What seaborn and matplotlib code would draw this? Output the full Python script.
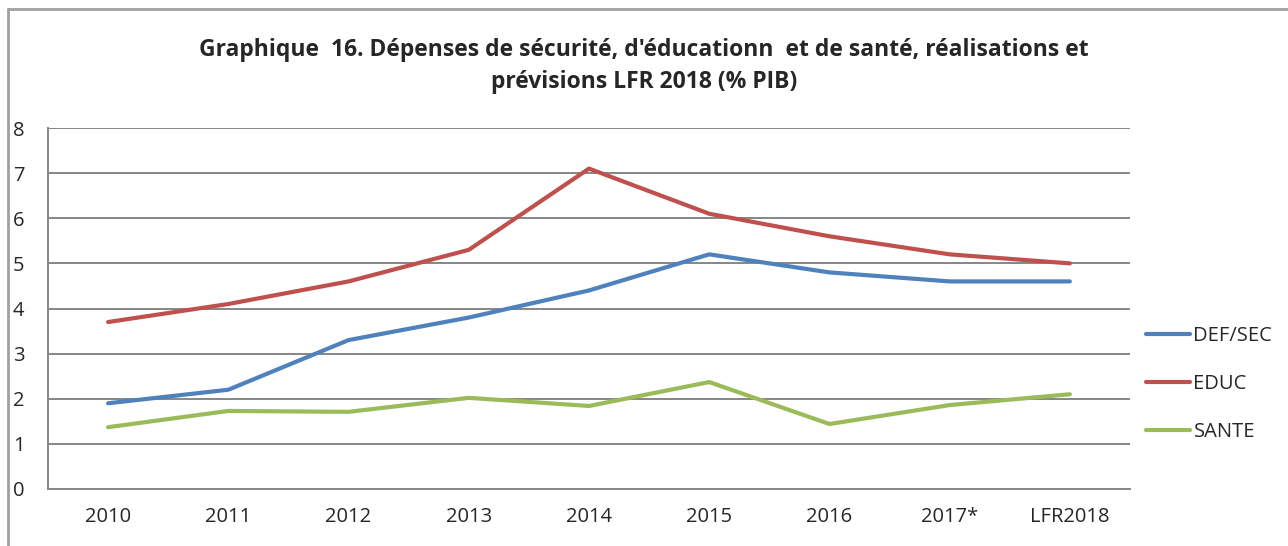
import matplotlib
matplotlib.use("Agg")
import matplotlib.pyplot as plt
from matplotlib.lines import Line2D
import seaborn as sns
import pandas as pd
import numpy as np

categories = ["2010", "2011", "2012", "2013", "2014", "2015", "2016", "2017*", "LFR2018"]
def_sec = [1.9, 2.2, 3.3, 3.8, 4.4, 5.2, 4.8, 4.6, 4.6]
educ = [3.7, 4.1, 4.6, 5.3, 7.1, 6.1, 5.6, 5.2, 5.0]
sante = [1.37, 1.73, 1.71, 2.02, 1.84, 2.37, 1.44, 1.86, 2.1]
series_names = ["DEF/SEC", "EDUC", "SANTE"]
colors = ["#4F81BD", "#C0504D", "#9BBB59"]
title = "Graphique  16. Dépenses de sécurité, d'éducationn  et de santé, réalisations et\nprévisions LFR 2018 (% PIB)"

sns.set_style("white")
plt.rcParams["font.family"] = ["Open Sans", "DejaVu Sans"]

rows = []
for name, vals in zip(series_names, [def_sec, educ, sante]):
    for i, v in enumerate(vals):
        rows.append({"x": i, "value": v, "serie": name})
df = pd.DataFrame(rows)

fig = plt.figure(figsize=(12.88, 5.46), dpi=100)
ax = fig.add_axes([48/1288, 1-489/546, (1130-48)/1288, (489-128)/546])

sns.lineplot(data=df, x="x", y="value", hue="serie", palette=colors,
             linewidth=3.0, ax=ax, legend=False, solid_capstyle="round")

ax.set_xlim(-0.5, len(categories) - 0.5)
ax.set_ylim(0, 8)
ax.set_yticks(range(0, 9))
ax.set_yticklabels([str(i) for i in range(0, 9)], fontsize=14.5)
ax.yaxis.grid(True, color="#868686", linewidth=1.4)
ax.set_axisbelow(True)
ax.tick_params(axis="y", which="major", length=6, width=1.2, color="#868686",
               direction="out", pad=11)

ax.set_xticks(range(len(categories)))
ax.set_xticklabels(categories, fontsize=14.5)
ax.tick_params(axis="x", which="major", length=0, pad=13)
ax.set_xticks(np.arange(-0.5, len(categories), 1.0), minor=True)
ax.tick_params(axis="x", which="minor", length=6, width=1.2, color="#868686", direction="out")

for s in ["top", "right"]:
    ax.spines[s].set_visible(False)
for s in ["left", "bottom"]:
    ax.spines[s].set_color("#868686")
    ax.spines[s].set_linewidth(1.4)
ax.set_xlabel("")
ax.set_ylabel("")

handles = [Line2D([0], [0], color=c, linewidth=3.0) for c in colors]
leg = fig.legend(handles, series_names, loc="center left",
                 bbox_to_anchor=(1128/1288, 1-384/546), frameon=False,
                 fontsize=14.5, handlelength=2.2, handletextpad=0.15,
                 labelspacing=1.4)

fig.text(0.50, 1-66/546, title, ha="center", va="center", fontsize=16.5,
         fontweight="bold", linespacing=1.45)

# outer chart border (top and left visible)
fig.add_artist(Line2D([8/1288, 8/1288], [0, 1-9/546], color="#A0A0A0", linewidth=2,
                      transform=fig.transFigure))
fig.add_artist(Line2D([8/1288, 1], [1-9/546, 1-9/546], color="#A0A0A0", linewidth=2,
                      transform=fig.transFigure))

fig.savefig("out.png", dpi=100)
